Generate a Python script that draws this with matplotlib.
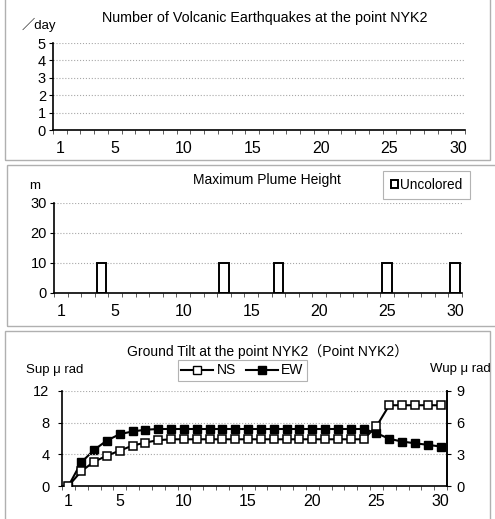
import matplotlib
matplotlib.use("Agg")
import matplotlib.pyplot as plt
from matplotlib.patches import Rectangle, Patch
from matplotlib.lines import Line2D
import numpy as np

plt.rcParams['font.family'] = ['Liberation Sans', 'Noto Sans CJK JP', 'DejaVu Sans']

days = list(range(1, 31))
xtick_labels = [1, 5, 10, 15, 20, 25, 30]

quake_counts = [0] * 30

plume_days = [4, 13, 17, 25, 30]
plume_heights = [10, 10, 10, 10, 10]

tilt_ns = [0, 1.87, 3.07, 3.83, 4.47, 5.1, 5.49, 5.79, 5.9, 5.9,
           5.9, 5.9, 5.9, 5.9, 5.9, 5.9, 5.9, 5.9, 5.9, 5.9,
           5.9, 5.9, 5.9, 5.9, 7.53, 10.2, 10.2, 10.2, 10.2, 10.2]
tilt_ew = [0, 2.24, 3.42, 4.31, 4.91, 5.17, 5.33, 5.4, 5.4, 5.4,
           5.4, 5.4, 5.4, 5.4, 5.4, 5.4, 5.4, 5.4, 5.4, 5.4,
           5.4, 5.4, 5.4, 5.4, 5.01, 4.47, 4.21, 4.05, 3.9, 3.74]

W, H = 495, 519
fig = plt.figure(figsize=(W / 100, H / 100), dpi=100)


def fbox(l, t, r, b):
    return [l / W, 1 - b / H, (r - l) / W, (b - t) / H]


# panel borders
for (l, t, r, b) in [(5, -2, 490, 160), (7, 165, 500, 326), (5, 331, 490, 525)]:
    fig.patches.append(Rectangle((l / W, 1 - b / H), (r - l) / W, (b - t) / H,
                                 transform=fig.transFigure, fill=False,
                                 edgecolor='#b0b0b0', linewidth=1.0))


def style_cat_axis(ax):
    ax.set_xlim(0.5, 30.5)
    ax.set_xticks(xtick_labels)
    ax.set_xticklabels([str(v) for v in xtick_labels], fontsize=11.5)
    ax.tick_params(axis='x', which='major', length=0, pad=8)
    ax.set_xticks(np.arange(0.5, 31, 1), minor=True)
    ax.tick_params(axis='x', which='minor', length=3, width=0.6, color='#444444', direction='out')
    ax.tick_params(axis='y', length=3, width=0.8, labelsize=10.5, pad=2)
    for s in ['top', 'right']:
        ax.spines[s].set_visible(False)
    for s in ['left', 'bottom']:
        ax.spines[s].set_linewidth(1.2)
    ax.grid(axis='y', color='#a8a8a8', linestyle=':', linewidth=0.8)
    ax.set_axisbelow(True)


# Panel 1
ax1 = fig.add_axes(fbox(53, 43, 465, 130))
ax1.plot(days, quake_counts, linestyle='none')
ax1.set_ylim(0, 5)
ax1.set_yticks(range(0, 6))
style_cat_axis(ax1)
fig.text(265 / W, 1 - 18 / H, 'Number of Volcanic Earthquakes at the point NYK2',
         ha='center', va='center', fontsize=10.3)
fig.text(22 / W, 1 - 25 / H, '／day', ha='left', va='center', fontsize=9.5)

# Panel 2
ax2 = fig.add_axes(fbox(54, 203, 462, 293))
ax2.bar(plume_days, plume_heights, width=0.7, color='white', edgecolor='black', linewidth=1.4)
ax2.set_ylim(0, 30)
ax2.set_yticks([0, 10, 20, 30])
style_cat_axis(ax2)
fig.text(267 / W, 1 - 180 / H, 'Maximum Plume Height', ha='center', va='center', fontsize=10)
fig.text(35 / W, 1 - 186 / H, 'm', ha='center', va='center', fontsize=9.5)
leg2 = fig.legend(handles=[Patch(facecolor='white', edgecolor='black', linewidth=1.4, label='Uncolored')],
                  loc='center', bbox_to_anchor=(426.5 / W, 1 - 185 / H), frameon=True, fancybox=False,
                  fontsize=9.8, handlelength=0.55, handleheight=0.55, handletextpad=0.15,
                  borderpad=0.55, borderaxespad=0)
leg2.get_frame().set_edgecolor('#a0a0a0')
leg2.get_frame().set_linewidth(0.8)

# Panel 3
ax3 = fig.add_axes(fbox(62, 391, 447, 486))
ax3r = ax3.twinx()
ax3.plot(days, tilt_ns, color='black', linewidth=1.5, marker='s', markersize=6.3,
         markerfacecolor='white', markeredgecolor='black', markeredgewidth=1.1, zorder=3)
ax3r.plot(days, tilt_ew, color='black', linewidth=1.5, marker='s', markersize=6.3,
          markerfacecolor='black', markeredgecolor='black', zorder=2)
ax3.set_zorder(ax3r.get_zorder() + 1)
ax3.patch.set_visible(False)
ax3.set_ylim(0, 12)
ax3.set_yticks([0, 4, 8, 12])
ax3r.set_ylim(0, 9)
ax3r.set_yticks([0, 3, 6, 9])
style_cat_axis(ax3)
ax3.tick_params(axis='x', which='major', pad=6)
ax3.spines['right'].set_visible(True)
ax3.spines['right'].set_linewidth(1.2)
ax3r.spines['top'].set_visible(False)
ax3r.spines['left'].set_visible(False)
ax3r.spines['bottom'].set_visible(False)
ax3r.spines['right'].set_linewidth(1.2)
ax3r.tick_params(axis='y', length=3, width=0.8, labelsize=10.5, pad=4)
ax3.tick_params(axis='y', pad=6)
fig.text(268 / W, 1 - 352 / H, 'Ground Tilt at the point NYK2（Point NYK2）',
         ha='center', va='center', fontsize=10)
fig.text(26 / W, 1 - 370 / H, 'Sup μ rad', ha='left', va='center', fontsize=9.5)
fig.text(491 / W, 1 - 369 / H, 'Wup μ rad', ha='right', va='center', fontsize=9.5)
h_ns = Line2D([], [], color='black', linewidth=1.5, marker='s', markersize=6,
              markerfacecolor='white', markeredgecolor='black')
h_ew = Line2D([], [], color='black', linewidth=1.5, marker='s', markersize=6,
              markerfacecolor='black', markeredgecolor='black')
leg3 = fig.legend(handles=[h_ns, h_ew], labels=['NS', 'EW'], loc='center',
                  bbox_to_anchor=(242.5 / W, 1 - 370.5 / H), ncol=2, frameon=True, fancybox=False,
                  fontsize=10, handlelength=2.3, handletextpad=0.25, columnspacing=0.7,
                  borderpad=0.25, borderaxespad=0)
leg3.get_frame().set_edgecolor('#a0a0a0')
leg3.get_frame().set_linewidth(0.8)

fig.savefig('out.png', dpi=100)
